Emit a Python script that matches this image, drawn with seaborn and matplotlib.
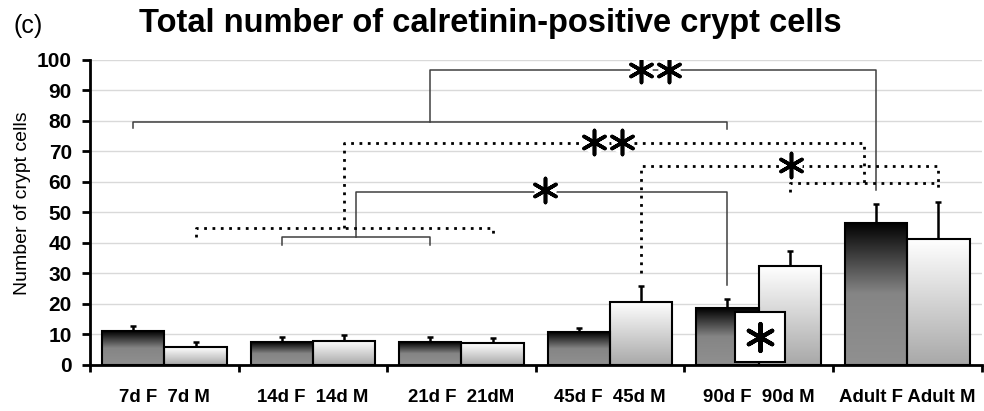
import numpy as np
import pandas as pd
import seaborn as sns
import matplotlib.pyplot as plt
from matplotlib.colors import LinearSegmentedColormap
from matplotlib.patches import Rectangle

# ==========================================
# DATA
# ==========================================
GROUPS = ["7d", "14d", "21d", "45d", "90d", "Adult"]
FEMALE_MEAN = [11.0, 7.4, 7.4, 10.7, 18.6, 46.6]
FEMALE_SD = [1.8, 1.9, 1.9, 1.5, 3.0, 6.1]
MALE_MEAN = [5.8, 7.9, 7.1, 20.7, 32.4, 41.2]
MALE_SD = [1.8, 1.9, 1.7, 5.3, 5.0, 12.3]
FEMALE_LABELS = ["7d F", "14d F", "21d F", "45d F", "90d F", "Adult F"]
MALE_LABELS = ["7d M", "14d M", "21dM", "45d M", "90d M", "Adult M"]
LABEL_GAPS = ["  ", "  ", "  ", "  ", "  ", " "]

# bracket levels (y values)
SOLID_LEVELS = {"a": 79.6, "b": 96.6, "c": 41.8, "d": 56.7}
DOTTED_LEVELS = {"a": 44.7, "b": 72.6, "c": 59.5, "d": 65.1}

plt.rcParams["font.family"] = ["Liberation Sans", "DejaVu Sans"]

df = pd.DataFrame({
    "group": GROUPS * 2,
    "mean": FEMALE_MEAN + MALE_MEAN,
    "sex": ["F"] * len(GROUPS) + ["M"] * len(GROUPS),
})

fig = plt.figure(figsize=(9.84, 4.11), dpi=100)
ax = fig.add_axes([0.0915, 0.112, 0.906, 0.743])

sns.barplot(data=df, x="group", y="mean", hue="sex", order=GROUPS,
            hue_order=["F", "M"], palette=["#555555", "#dddddd"],
            width=0.84, edgecolor="black", linewidth=1.5,
            errorbar=None, legend=False, ax=ax, zorder=3)

# bar centres, ordered left to right (F, M, F, M, ...)
bars = sorted([p for p in ax.patches if p.get_height() > 0], key=lambda p: p.get_x())
centers = [p.get_x() + p.get_width() / 2 for p in bars]
f_x = centers[0::2]
m_x = centers[1::2]

# gradient fill
cmap_f = LinearSegmentedColormap.from_list("f", ["#909090", "#858585", "#000000"])
cmap_m = LinearSegmentedColormap.from_list("m", ["#a8a8a8", "#ffffff"])
grad = np.linspace(0, 1, 256).reshape(-1, 1)
for i, p in enumerate(bars):
    x0, w, h = p.get_x(), p.get_width(), p.get_height()
    im = ax.imshow(grad, extent=[x0, x0 + w, 0, h], origin="lower", aspect="auto",
                   cmap=cmap_f if i % 2 == 0 else cmap_m, zorder=2.9)
    im.set_clip_path(p)
    p.set_facecolor("none")

# upward error bars
ax.errorbar(f_x, FEMALE_MEAN, yerr=[np.zeros(6), FEMALE_SD], fmt="none",
            ecolor="black", elinewidth=1.8, capsize=2, capthick=1.8, zorder=2.5)
ax.errorbar(m_x, MALE_MEAN, yerr=[np.zeros(6), MALE_SD], fmt="none",
            ecolor="black", elinewidth=1.8, capsize=2, capthick=1.8, zorder=2.5)

# significance brackets
solid = dict(color="#404040", lw=1.1, zorder=4)
dotted = dict(color="black", lw=2.0, ls=(0, (1, 2.0)), zorder=4)
mid = lambda a, b: (a + b) / 2

ax.plot([f_x[0], f_x[0], f_x[4], f_x[4]], [77.5, SOLID_LEVELS["a"], SOLID_LEVELS["a"], 77.2], **solid)
m1 = mid(f_x[0], f_x[4])
ax.plot([m1, m1, f_x[5], f_x[5]], [SOLID_LEVELS["a"], SOLID_LEVELS["b"], SOLID_LEVELS["b"], 57.3], **solid)
ax.plot([f_x[1], f_x[1], f_x[2], f_x[2]], [39.3, SOLID_LEVELS["c"], SOLID_LEVELS["c"], 39.3], **solid)
m2 = mid(f_x[1], f_x[2])
ax.plot([m2, m2, f_x[4], f_x[4]], [SOLID_LEVELS["c"], SOLID_LEVELS["d"], SOLID_LEVELS["d"], 26.2], **solid)

ax.plot([m_x[0], m_x[0], m_x[2], m_x[2]], [41.9, DOTTED_LEVELS["a"], DOTTED_LEVELS["a"], 41.9], **dotted)
m3 = mid(m_x[0], m_x[2])
m4 = mid(m_x[4], m_x[5])
ax.plot([m3, m3, m4, m4], [DOTTED_LEVELS["a"], DOTTED_LEVELS["b"], DOTTED_LEVELS["b"], DOTTED_LEVELS["c"]], **dotted)
ax.plot([m_x[4], m_x[4], m_x[5], m_x[5]], [56.7, DOTTED_LEVELS["c"], DOTTED_LEVELS["c"], 56.7], **dotted)
ax.plot([m_x[3], m_x[3], m_x[5], m_x[5]], [30.0, DOTTED_LEVELS["d"], DOTTED_LEVELS["d"], DOTTED_LEVELS["c"]], **dotted)

# stars (white halo so the bracket lines break around them)
STAR_X = [3.206, 3.394, 2.89, 3.078, 2.56, 4.22]
STAR_Y = [96.6, 96.6, 73.1, 73.1, 57.3, 65.5]
ax.scatter(STAR_X, STAR_Y, marker="o", color="white", s=260, linewidths=0, zorder=5)
ax.scatter(STAR_X, STAR_Y, marker=(6, 2, 0), color="black", s=300, linewidths=2.6, zorder=6)

# boxed star inside the 90d group
ax.add_patch(Rectangle((3.838, 0.9), 0.336, 16.3, facecolor="white",
                       edgecolor="black", lw=1.5, zorder=5))
ax.scatter([4.006], [9.3], marker=(6, 2, 0), color="black", s=380, linewidths=3, zorder=6)

# axes styling
ax.set_xlim(-0.5, 5.5)
ax.set_ylim(0, 100)
ax.set_yticks(range(0, 101, 10))
ax.yaxis.grid(True, color="#d9d9d9", lw=1)
ax.set_axisbelow(True)
for side in ["top", "right"]:
    ax.spines[side].set_visible(False)
for side in ["left", "bottom"]:
    ax.spines[side].set_linewidth(2)
    ax.spines[side].set_color("black")

# one label per group, "F-label  M-label", centred under the pair
ax.set_xticks(range(len(GROUPS)))
ax.set_xticklabels([f + g + m for f, g, m in zip(FEMALE_LABELS, LABEL_GAPS, MALE_LABELS)],
                   fontsize=13.4, fontweight="bold")
ax.set_xticks(np.arange(-0.5, 6, 1), minor=True)
ax.tick_params(axis="x", which="major", length=0, pad=17)
ax.tick_params(axis="x", which="minor", length=5, width=2, direction="out")
ax.tick_params(axis="y", length=6, width=2, direction="out", pad=7)
for lab in ax.get_yticklabels():
    lab.set_fontsize(15)
    lab.set_fontweight("bold")

ax.set_xlabel("")
ax.set_ylabel("Number of crypt cells", fontsize=14)
ax.yaxis.set_label_coords(-0.066, 0.53)

fig.text(0.498, 0.905, "Total number of calretinin-positive crypt cells",
         ha="center", va="bottom", fontsize=23.5, fontweight="bold")
fig.text(0.014, 0.908, "(c)", ha="left", va="bottom", fontsize=18)

fig.savefig("out.png", dpi=100)
